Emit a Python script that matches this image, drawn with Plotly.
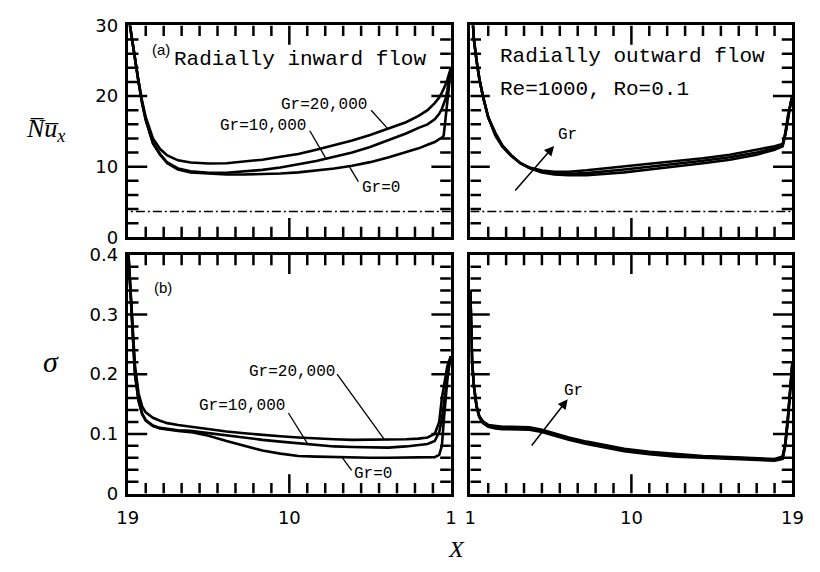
import plotly.graph_objects as go

# ---------------- data ----------------
X_in = [19, 18.8, 18.6, 18.4, 18.2, 18.0, 17.6, 17.2, 16.8, 16.2, 15.5, 14.5, 13.5, 12.5, 11.5,
        10.5, 9.5, 8.5, 7.5, 6.5, 5.5, 4.5, 3.5, 2.8, 2.3, 1.9, 1.65, 1.5, 1.4, 1.3, 1.2, 1.1, 1.0]

nu_in_gr0 = [32, 28.5, 25.5, 22.0, 19.0, 16.6, 13.3, 11.7, 10.5, 9.6, 9.2, 9.0, 8.9, 8.9, 8.95,
             9.05, 9.2, 9.45, 9.75, 10.15, 10.65, 11.3, 12.0, 12.6, 13.1, 13.5, 13.9, 14.1, 14.4,
             16.5, 19.0, 21.5, 24.0]
nu_in_gr10k = [32, 28.5, 25.5, 22.0, 19.0, 16.7, 13.4, 11.8, 10.6, 9.75, 9.35, 9.15, 9.15, 9.3,
               9.55, 9.9, 10.3, 10.8, 11.4, 12.0, 12.8, 13.7, 14.7, 15.5, 16.0, 16.7, 17.5, 18.2,
               18.8, 19.6, 20.8, 22.3, 24.0]
nu_in_gr20k = [32, 28.5, 25.5, 22.1, 19.3, 17.0, 14.0, 12.5, 11.6, 10.9, 10.6, 10.45, 10.5, 10.7,
               11.0, 11.4, 11.8, 12.4, 13.0, 13.7, 14.5, 15.4, 16.3, 17.2, 18.0, 19.0, 19.8, 20.5,
               21.0, 21.6, 22.3, 23.1, 24.0]

sig_in_gr0 = [0.42, 0.30, 0.20, 0.155, 0.133, 0.122, 0.113, 0.109, 0.107, 0.105, 0.103, 0.097,
              0.088, 0.080, 0.072, 0.067, 0.063, 0.062, 0.061, 0.0605, 0.060, 0.060, 0.060, 0.060,
              0.060, 0.061, 0.065, 0.080, 0.12, 0.16, 0.19, 0.215, 0.23]
sig_in_gr10k = [0.42, 0.30, 0.20, 0.156, 0.134, 0.123, 0.114, 0.110, 0.108, 0.106, 0.105, 0.101,
                0.097, 0.094, 0.090, 0.087, 0.084, 0.081, 0.079, 0.078, 0.077, 0.077, 0.079, 0.081,
                0.083, 0.088, 0.103, 0.125, 0.145, 0.17, 0.195, 0.215, 0.23]
sig_in_gr20k = [0.42, 0.31, 0.215, 0.168, 0.146, 0.136, 0.127, 0.122, 0.118, 0.115, 0.112, 0.108,
                0.104, 0.101, 0.098, 0.096, 0.094, 0.092, 0.091, 0.090, 0.090, 0.090, 0.091, 0.092,
                0.094, 0.100, 0.120, 0.160, 0.180, 0.200, 0.213, 0.222, 0.23]

X_out = [1.0, 1.1, 1.2, 1.35, 1.5, 1.7, 2.0, 2.4, 2.8, 3.3, 3.8, 4.3, 5.0, 5.7, 6.5, 7.5, 8.5,
         9.6, 11, 12.5, 14, 15.5, 17, 18.0, 18.45, 18.6, 18.75, 18.9, 19.0]

nu_out_gr0 = [36, 31.5, 28, 25, 22.5, 20.0, 17.0, 14.8, 13.0, 11.6, 10.5, 9.8, 9.2, 8.9, 8.8, 8.8,
              8.95, 9.2, 9.6, 10.0, 10.5, 11.0, 11.7, 12.4, 12.9, 14.5, 17.0, 19.0, 20.0]
nu_out_gr10k = [36, 31.5, 28, 25, 22.5, 20.0, 17.0, 14.6, 12.9, 11.5, 10.5, 9.85, 9.3, 9.05, 9.0,
                9.1, 9.3, 9.6, 10.0, 10.4, 10.85, 11.35, 12.0, 12.6, 13.0, 14.6, 17.1, 19.1, 20.0]
nu_out_gr20k = [36, 31.5, 28, 25, 22.5, 20.0, 17.0, 14.4, 12.8, 11.5, 10.5, 9.9, 9.45, 9.3, 9.3,
                9.5, 9.75, 10.0, 10.4, 10.8, 11.2, 11.7, 12.4, 12.9, 13.2, 14.8, 17.3, 19.2, 20.0]

sig_out_gr0 = [0.34, 0.22, 0.18, 0.145, 0.128, 0.118, 0.112, 0.109, 0.108, 0.108, 0.108, 0.107,
               0.103, 0.097, 0.090, 0.083, 0.077, 0.071, 0.066, 0.062, 0.060, 0.058, 0.056, 0.055,
               0.058, 0.080, 0.125, 0.180, 0.22]
sig_out_gr10k = [0.34, 0.22, 0.18, 0.146, 0.129, 0.120, 0.114, 0.111, 0.110, 0.110, 0.110, 0.109,
                 0.105, 0.099, 0.092, 0.085, 0.079, 0.073, 0.068, 0.064, 0.062, 0.060, 0.058, 0.057,
                 0.060, 0.082, 0.127, 0.182, 0.22]
sig_out_gr20k = [0.34, 0.22, 0.18, 0.147, 0.130, 0.121, 0.115, 0.113, 0.112, 0.112, 0.112, 0.111,
                 0.107, 0.101, 0.094, 0.087, 0.081, 0.075, 0.070, 0.066, 0.063, 0.061, 0.059, 0.058,
                 0.062, 0.085, 0.130, 0.185, 0.22]

nu_fd = 3.66  # fully developed reference (dash-dot)

x_ticks = [1, 10, 19]
x_ticktext = ["1", "10", "19"]
x_minor = list(range(1, 20))
y_top_ticks = [0, 10, 20, 30]
y_top_text = ["0", "10", "20", "30"]
y_top_minor = list(range(0, 31, 2))
y_bot_ticks = [0, 0.1, 0.2, 0.3, 0.4]
y_bot_text = ["0", "0.1", "0.2", "0.3", "0.4"]
y_bot_minor = [round(0.02 * i, 2) for i in range(21)]

# ---------------- figure ----------------
fig = go.Figure()
line = dict(color="black", width=2.6)

def add(x, y, xa, ya):
    fig.add_trace(go.Scatter(x=x, y=y, mode="lines", line=line, xaxis=xa, yaxis=ya,
                             showlegend=False, hoverinfo="skip"))

for s in (nu_in_gr0, nu_in_gr10k, nu_in_gr20k):
    add(X_in, s, "x", "y")
for s in (nu_out_gr0, nu_out_gr10k, nu_out_gr20k):
    add(X_out, s, "x2", "y2")
for s in (sig_in_gr0, sig_in_gr10k, sig_in_gr20k):
    add(X_in, s, "x3", "y3")
for s in (sig_out_gr0, sig_out_gr10k, sig_out_gr20k):
    add(X_out, s, "x4", "y4")

for xa, ya in (("x", "y"), ("x2", "y2")):
    fig.add_trace(go.Scatter(x=[1, 19], y=[nu_fd, nu_fd], mode="lines",
                             line=dict(color="black", width=1.6, dash="9px,3px,2px,3px"),
                             xaxis=xa, yaxis=ya, showlegend=False, hoverinfo="skip"))

W, H = 820, 572
L_PX, R_PX = (120, 452), (472, 803)
T_PX, B_PX = (15, 235), (253, 501)
dl = (L_PX[0] / W, L_PX[1] / W)
dr = (R_PX[0] / W, R_PX[1] / W)
dt = ((H - T_PX[1]) / H, (H - T_PX[0]) / H)
db = ((H - B_PX[1]) / H, (H - B_PX[0]) / H)

tickfont = dict(family="DejaVu Sans", size=18, color="black")

def xaxis(domain, rng, anchor, labels):
    return dict(domain=domain, range=rng, anchor=anchor, showline=True, linewidth=3,
                linecolor="black", mirror=True, ticks="", tickmode="array",
                tickvals=x_ticks, ticktext=x_ticktext, showticklabels=labels,
                tickfont=tickfont, ticklabelstandoff=6, showgrid=False, zeroline=False)

def yaxis(domain, rng, anchor, tv, tt, labels):
    return dict(domain=domain, range=rng, anchor=anchor, showline=True, linewidth=3,
                linecolor="black", mirror=True, ticks="", tickmode="array", tickvals=tv,
                ticktext=tt, showticklabels=labels, tickfont=tickfont, ticklabelstandoff=3,
                showgrid=False, zeroline=False)

XL, XR = [19, 1], [1, 19]
fig.update_layout(
    width=W, height=H, margin=dict(l=0, r=0, t=0, b=0),
    paper_bgcolor="white", plot_bgcolor="white", showlegend=False,
    xaxis=xaxis(dl, XL, "y", False),
    xaxis2=xaxis(dr, XR, "y2", False),
    xaxis3=xaxis(dl, XL, "y3", True),
    xaxis4=xaxis(dr, XR, "y4", True),
    yaxis=yaxis(dt, [0, 30], "x", y_top_ticks, y_top_text, True),
    yaxis2=yaxis(dt, [0, 30], "x2", y_top_ticks, y_top_text, False),
    yaxis3=yaxis(db, [0, 0.4], "x3", y_bot_ticks, y_bot_text, True),
    yaxis4=yaxis(db, [0, 0.4], "x4", y_bot_ticks, y_bot_text, False),
)

# ---- inward tick marks on all four sides of each panel: one line trace per tick ----
MAJ, MIN = 20, 11
tick_style = dict(color="black", width=2.5)
panels = [("x", "y", XL, L_PX, T_PX, y_top_ticks, y_top_minor, (0, 30)),
          ("x2", "y2", XR, R_PX, T_PX, y_top_ticks, y_top_minor, (0, 30)),
          ("x3", "y3", XL, L_PX, B_PX, y_bot_ticks, y_bot_minor, (0, 0.4)),
          ("x4", "y4", XR, R_PX, B_PX, y_bot_ticks, y_bot_minor, (0, 0.4))]
for xa, ya, xr, xp, yp, ymaj, ymin, yr in panels:
    kx = abs(xr[1] - xr[0]) / (xp[1] - xp[0])
    ky = (yr[1] - yr[0]) / (yp[1] - yp[0])
    sx = 1 if xr[1] > xr[0] else -1
    segs = []
    for v in x_minor:
        if v in (1, 19):
            continue
        d = (MAJ if v in x_ticks else MIN) * ky
        segs.append(([v, v], [yr[0], yr[0] + d]))
        segs.append(([v, v], [yr[1], yr[1] - d]))
    for v in ymin:
        if abs(v - yr[0]) < 1e-9 or abs(v - yr[1]) < 1e-9:
            continue
        d = (MAJ if any(abs(v - m) < 1e-9 for m in ymaj) else MIN) * kx
        segs.append(([xr[0], xr[0] + sx * d], [v, v]))
        segs.append(([xr[1], xr[1] - sx * d], [v, v]))
    for sxv, syv in segs:
        fig.add_trace(go.Scatter(x=sxv, y=syv, mode="lines", line=tick_style,
                                 xaxis=xa, yaxis=ya, showlegend=False, hoverinfo="skip",
                                 cliponaxis=False))

mono = "Liberation Mono"
ann = []

def ptxt(px, py, text, size, family=mono, **kw):
    ann.append(dict(x=px / W, y=1 - py / H, xref="paper", yref="paper", text=text,
                    showarrow=False, xanchor="center", yanchor="middle",
                    font=dict(family=family, size=size, color="black"), **kw))

ptxt(154, 40, "(a)", 15, family="Liberation Sans")
ptxt(156, 287, "(b)", 15, family="Liberation Sans")
ptxt(297, 50, "Radially inward flow", 21)
ptxt(639, 47, "Radially outward flow", 21)
ptxt(600, 81, "Re=1000, Ro=0.1", 21)
ptxt(35, 124, "<i>N\u0305u\u0305</i><sub><i>x</i></sub>", 26, family="Liberation Serif")
ptxt(41, 364, "<i>\u03c3</i>", 30, family="Liberation Serif")
ptxt(458, 558, "<i>X</i>", 24, family="Liberation Serif")

def dtxt(x, y, text, xa, ya, size=16):
    ann.append(dict(x=x, y=y, xref=xa, yref=ya, text=text, showarrow=False,
                    xanchor="center", yanchor="middle",
                    font=dict(family=mono, size=size, color="black")))

dtxt(8.05, 18.8, "Gr=20,000", "x", "y")
dtxt(11.46, 15.8, "Gr=10,000", "x", "y")
dtxt(4.9, 6.95, "Gr=0", "x", "y")
dtxt(9.84, 0.203, "Gr=20,000", "x3", "y3")
dtxt(12.66, 0.147, "Gr=10,000", "x3", "y3")
dtxt(5.33, 0.032, "Gr=0", "x3", "y3")
dtxt(6.44, 14.45, "Gr", "x2", "y2", 16)
dtxt(6.76, 0.171, "Gr", "x4", "y4", 16)

fig.update_layout(annotations=ann)

for xa, ya, x0, y0, x1, y1 in (("x2", "y2", 3.34, 6.14, 5.68, 12.95),
                               ("x4", "y4", 4.26, 0.074, 6.44, 0.158)):
    fig.add_annotation(x=x1, y=y1, ax=x0, ay=y0, xref=xa, yref=ya, axref=xa, ayref=ya,
                       text=" ", showarrow=True, arrowhead=2, arrowsize=1.3,
                       arrowwidth=1.5, arrowcolor="black", standoff=0)

leaders = [
    ("x", "y", 5.44, 18.0, 4.52, 15.4),
    ("x", "y", 8.86, 15.1, 7.99, 11.3),
    ("x", "y", 6.15, 7.9, 6.64, 9.95),
    ("x3", "y3", 7.34, 0.200, 4.74, 0.092),
    ("x3", "y3", 10.05, 0.135, 8.97, 0.083),
    ("x3", "y3", 6.53, 0.039, 7.07, 0.061),
]
for xa, ya, x0, y0, x1, y1 in leaders:
    fig.add_shape(type="line", xref=xa, yref=ya, x0=x0, y0=y0, x1=x1, y1=y1,
                  line=dict(color="black", width=1.3))

fig.write_html("out.html")
